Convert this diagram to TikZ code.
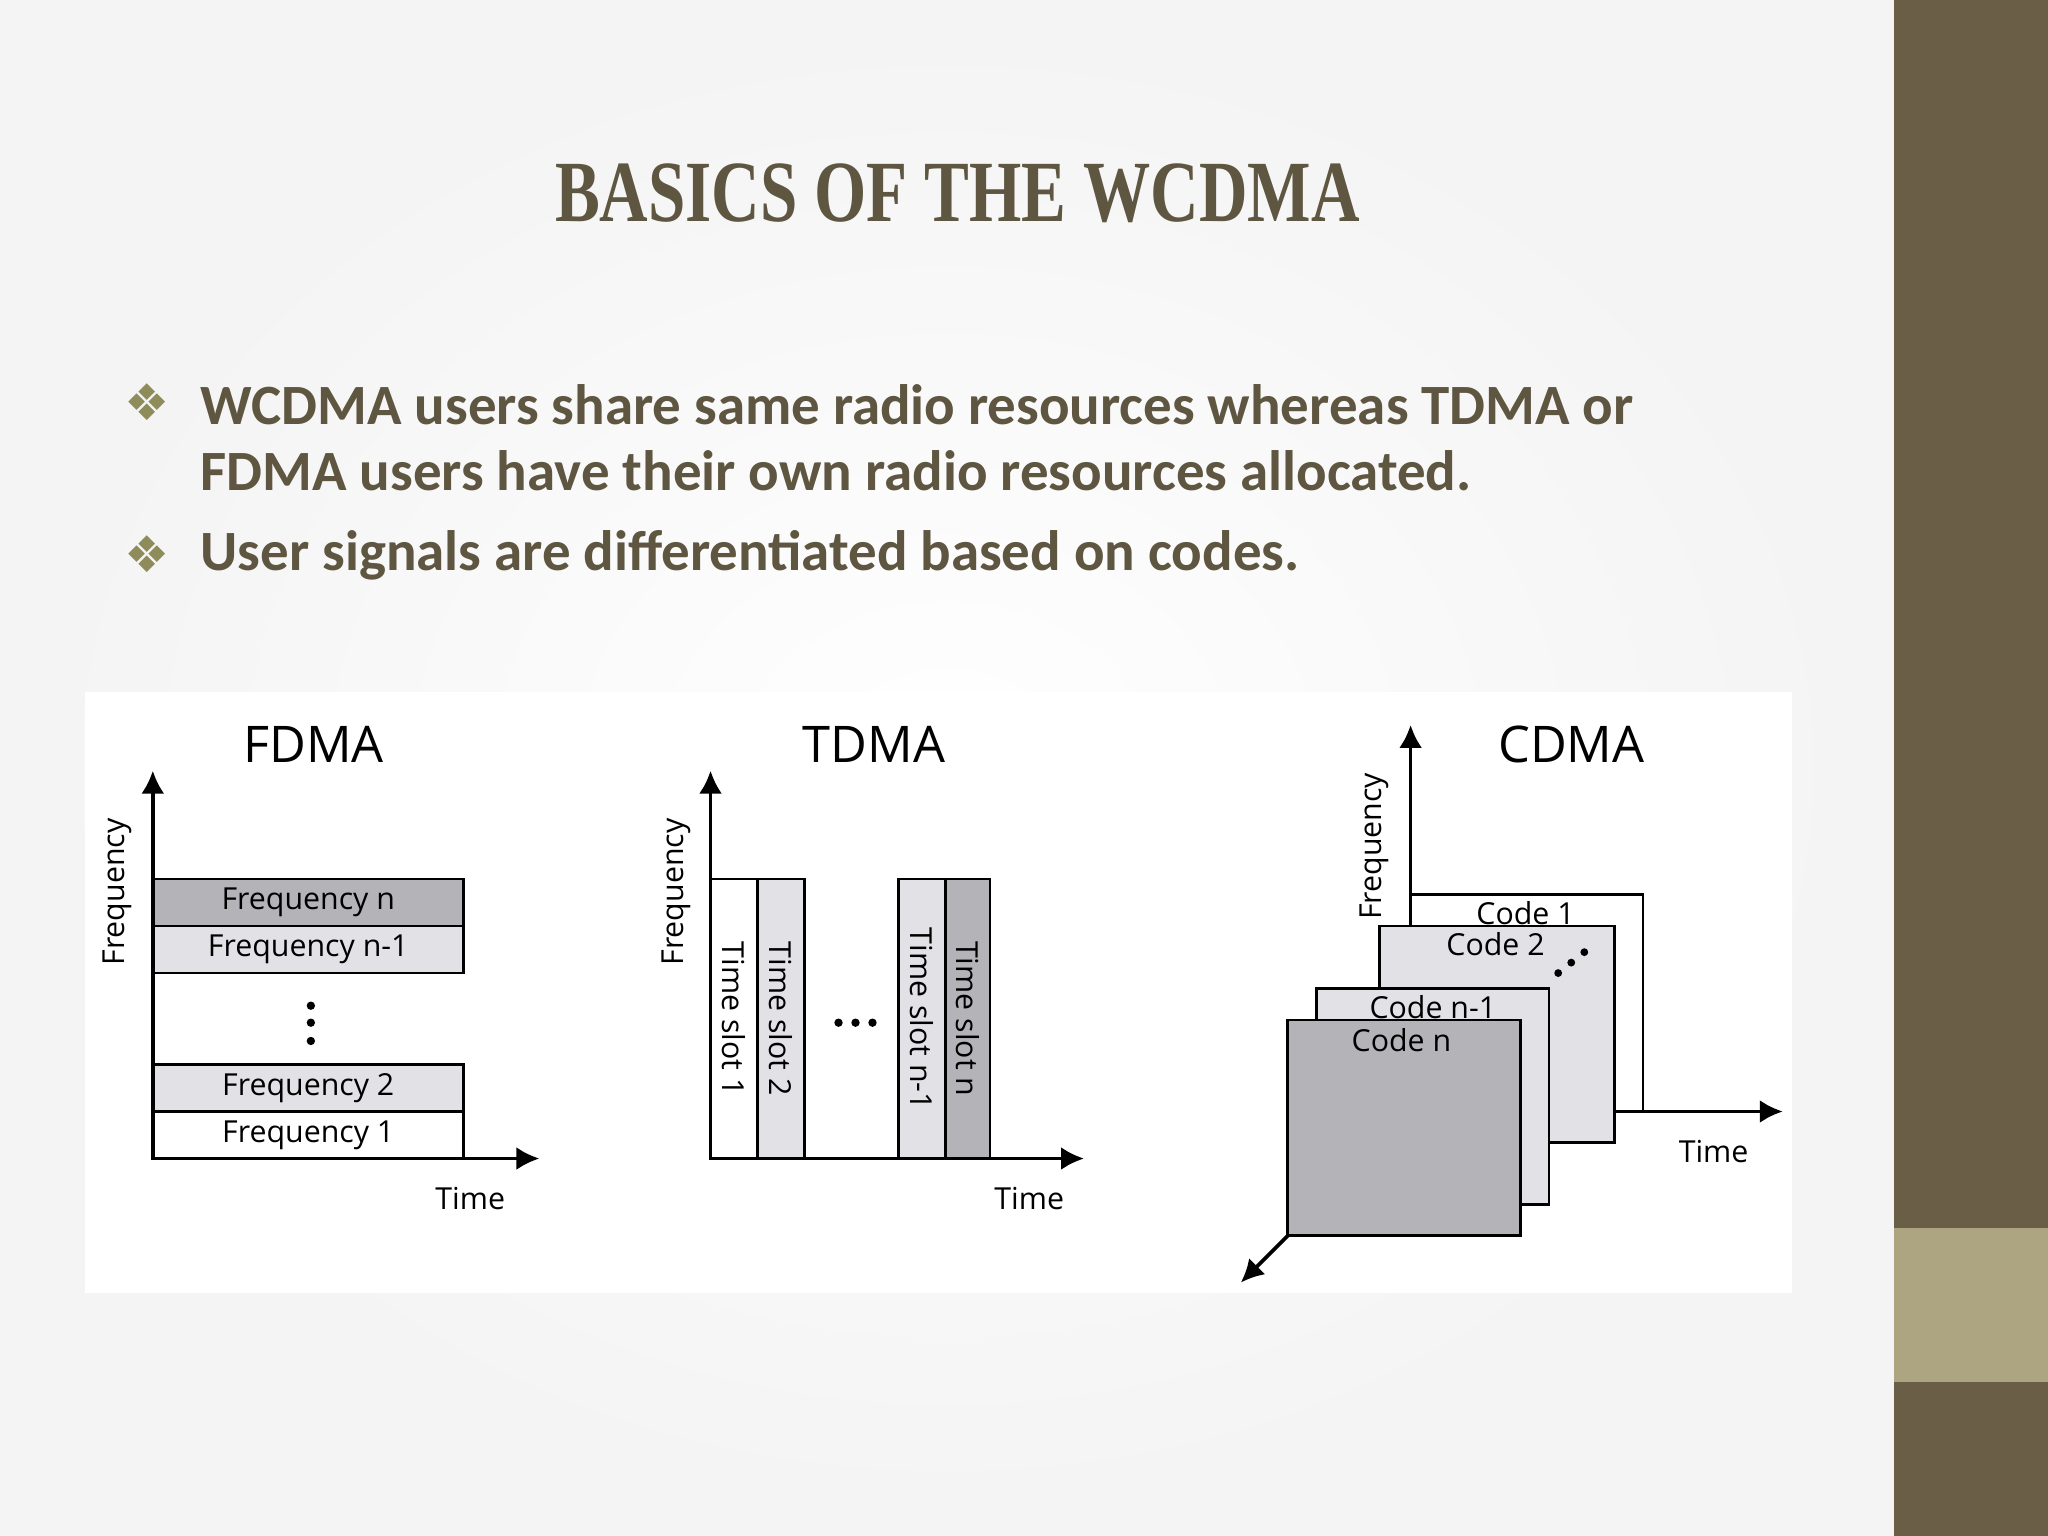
\documentclass[tikz,border=0pt]{standalone}
\usepackage{fontspec}
\setmainfont{Carlito}
\newfontfamily\titlefont{Liberation Serif}
\newfontfamily\diagfont{Open Sans}
\newfontfamily\symfont{DejaVu Sans}
\definecolor{olive}{HTML}{5E5641}
\definecolor{barc}{HTML}{6B5E46}
\definecolor{barl}{HTML}{ADA581}
\definecolor{bul}{HTML}{8F8C5C}
\definecolor{gfill}{HTML}{B4B4B8}
\definecolor{lfill}{HTML}{E2E2E6}
\tikzset{
 ax/.style={line width=0.8pt,-{Latex[length=5pt,width=5pt]}},
 bx/.style={draw,line width=0.6pt},
 lbl/.style={font=\diagfont\fontsize{6.6}{8}\selectfont,inner sep=0},
 hd/.style={font=\diagfont\fontsize{11}{13}\selectfont,inner sep=0},
 bt/.style={font=\bfseries\fontsize{12.4}{14.5}\selectfont,text=olive,anchor=west,inner sep=0,align=left},
}
\usetikzlibrary{arrows.meta}
\begin{document}
\begin{tikzpicture}[x=0.01cm,y=-0.01cm]
\useasboundingbox (0,0) rectangle (1568,1176);
\shade[inner color=white,outer color=gray!9] (0,0) rectangle (1450,1176);
\fill[white] (65,530) rectangle (1372,990);
\fill[barc] (1450,0) rectangle (1568,1176);
\fill[barl] (1450,940) rectangle (1568,1058);
\node[font=\titlefont\bfseries\fontsize{19}{22}\selectfont,text=olive,inner sep=0,xscale=0.77] (title) at (733,148) {BASICS OF THE WCDMA};
\node[text=bul,font=\symfont\fontsize{11}{12}\selectfont,inner sep=0] (d1) at (113,308) {❖};
\node[text=bul,font=\symfont\fontsize{11}{12}\selectfont,inner sep=0] (d2) at (113,424) {❖};
\node[bt] (b1) at (153,335) {WCDMA users share same radio resources whereas TDMA or\\FDMA users have their own radio resources allocated.};
\node[bt] (b2) at (153,425) {User signals are differentiated based on codes.};
% FDMA
\coordinate (fo) at (117,887);
\coordinate (fy) at (117,590);
\coordinate (fx) at (413,887);
\node[bx,fill=gfill,minimum width=238*0.01cm,minimum height=36*0.01cm,inner sep=0] (fn) at (236,691) {};
\node[bx,fill=lfill,minimum width=238*0.01cm,minimum height=36*0.01cm,inner sep=0] (fn1) at (236,727) {};
\node[bx,fill=lfill,minimum width=238*0.01cm,minimum height=36*0.01cm,inner sep=0] (f2) at (236,833) {};
\node[bx,fill=white,minimum width=238*0.01cm,minimum height=36*0.01cm,inner sep=0] (f1) at (236,869) {};
\node[lbl] at (fn) {Frequency n};
\node[lbl] at (fn1) {Frequency n-1};
\node[lbl] at (f2) {Frequency 2};
\node[lbl] at (f1) {Frequency 1};
\draw[ax] (fo) -- (fy);
\draw[ax] (fo) -- (fx);
\foreach \y in {770,783,797} \fill (238,\y) circle (3.2);
\node[lbl,rotate=90] (ff) at (90,683) {Frequency};
\node[hd] (fh) at (240,570) {FDMA};
\node[lbl] (ft) at (360,918) {Time};
% TDMA
\coordinate (to) at (544,887);
\coordinate (ty) at (544,590);
\coordinate (tx) at (830,887);
\node[bx,fill=white,minimum width=214*0.01cm,minimum height=36*0.01cm,inner sep=0,rotate=-90] (s1) at (562,780) {};
\node[bx,fill=lfill,minimum width=214*0.01cm,minimum height=36*0.01cm,inner sep=0,rotate=-90] (s2) at (598,780) {};
\node[bx,fill=lfill,minimum width=214*0.01cm,minimum height=36*0.01cm,inner sep=0,rotate=-90] (sn1) at (706,780) {};
\node[bx,fill=gfill,minimum width=214*0.01cm,minimum height=34*0.01cm,inner sep=0,rotate=-90] (sn) at (741,780) {};
\node[lbl,rotate=-90] at (s1) {Time slot 1};
\node[lbl,rotate=-90] at (s2) {Time slot 2};
\node[lbl,rotate=-90] at (sn1) {Time slot n-1};
\node[lbl,rotate=-90] at (sn) {Time slot n};
\draw[ax] (to) -- (ty);
\draw[ax] (to) -- (tx);
\foreach \x in {642,655,668} \fill (\x,783) circle (3.2);
\node[lbl,rotate=90] (tf) at (518,683) {Frequency};
\node[hd] (th) at (669,570) {TDMA};
\node[lbl] (tt) at (788,918) {Time};
% CDMA
\coordinate (co) at (1080,851);
\coordinate (cy) at (1080,555);
\coordinate (cx) at (1365,851);
\coordinate (cz0) at (986,946);
\coordinate (cz) at (950,982);
\draw[ax] (co) -- (cy);
\draw[ax] (co) -- (cx);
\draw[bx,fill=white] (1080,685) rectangle (1258,851);
\draw[bx,fill=lfill] (1056,709) rectangle (1236,875);
\draw[bx,fill=lfill] (1008,757) rectangle (1186,922);
\draw[bx,fill=gfill] (986,781) rectangle (1164,946);
\draw[ax] (cz0) -- (cz);
\node[lbl] at (1168,699) {Code 1};
\node[lbl] at (1145,723) {Code 2};
\node[lbl] at (1097,771) {Code n-1};
\node[lbl] at (1073,796) {Code n};
\foreach \p in {(1193,745),(1203,737),(1213,729)} \fill \p circle (3);
\node[lbl,rotate=90] (cf) at (1052,648) {Frequency};
\node[hd] (ch) at (1203,570) {CDMA};
\node[lbl] (ct) at (1312,882) {Time};
\end{tikzpicture}
\end{document}
